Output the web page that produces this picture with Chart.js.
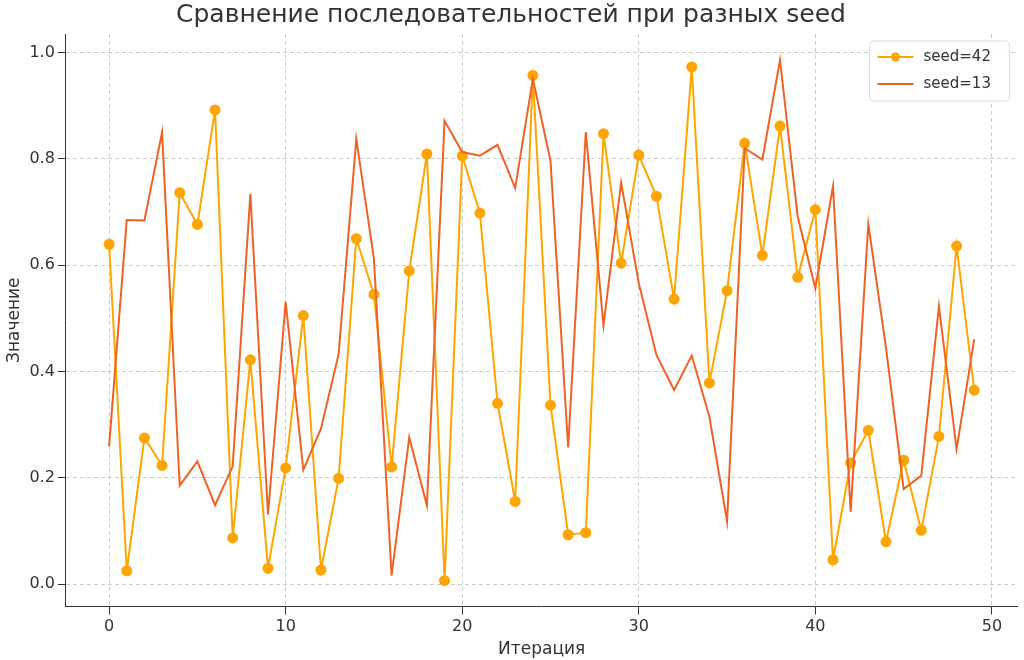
<!DOCTYPE html>
<html><head><meta charset="utf-8">
<script src="https://cdn.jsdelivr.net/npm/chart.js@4"></script>
<style>html,body{margin:0;padding:0;background:#fff}#w{width:1024px;height:660px}</style>
</head><body><div id="w"><canvas id="c" width="1024" height="660"></canvas></div>
<script>
const iterations = Array.from({length:50},(_, i)=>i);
const seed42 = [0.6394,0.0250,0.2750,0.2232,0.7365,0.6767,0.8922,0.0869,0.4219,0.0298,0.2186,0.5053,0.0265,0.1988,0.6499,0.5449,0.2204,0.5893,0.8094,0.0065,0.8058,0.6981,0.3402,0.1555,0.9572,0.3366,0.0928,0.0968,0.8475,0.6038,0.8071,0.7297,0.5362,0.9731,0.3785,0.5520,0.8294,0.6185,0.8617,0.5773,0.7045,0.0458,0.2279,0.2894,0.0797,0.2330,0.1011,0.2779,0.6359,0.3648];
const seed13 = [0.2590,0.6852,0.6841,0.8499,0.1851,0.2308,0.1484,0.2215,0.7339,0.1309,0.5311,0.2148,0.2925,0.4327,0.8376,0.6118,0.0158,0.2763,0.1478,0.8716,0.8128,0.8061,0.8265,0.7449,0.9505,0.7962,0.2573,0.8505,0.4867,0.7553,0.5661,0.4310,0.3652,0.4298,0.3149,0.1181,0.8201,0.7989,0.9859,0.6916,0.5561,0.7486,0.1355,0.6775,0.4450,0.1786,0.2041,0.5225,0.2540,0.4604];
const xTicks = [0,10,20,30,40,50];
const yTicks = [0.0,0.2,0.4,0.6,0.8,1.0];
const toXY = a => a.map((v,i)=>({x:iterations[i],y:v}));
const font = {family:'"DejaVu Sans", sans-serif'};
const legendPlugin = {id:'inLegend',afterDraw(ch){
  const ctx=ch.ctx, a=ch.chartArea;
  const x0=a.right-148, y0=a.top+7, w=140, h=60;
  ctx.save();
  ctx.fillStyle='rgba(255,255,255,0.85)';ctx.strokeStyle='#ddd';ctx.lineWidth=1;
  ctx.beginPath();ctx.roundRect(x0,y0,w,h,4);ctx.fill();ctx.stroke();
  ch.data.datasets.forEach((d,i)=>{
    const yy=y0+16+i*27;
    ctx.strokeStyle=d.borderColor;ctx.lineWidth=2;
    ctx.beginPath();ctx.moveTo(x0+8,yy);ctx.lineTo(x0+44,yy);ctx.stroke();
    if(d.pointRadius>0){ctx.fillStyle=d.borderColor;ctx.beginPath();ctx.arc(x0+26,yy,4.5,0,Math.PI*2);ctx.fill();}
    ctx.fillStyle='#333';ctx.font='15px "DejaVu Sans", sans-serif';ctx.textBaseline='middle';
    ctx.fillText(d.label,x0+54,yy);
  });
  ctx.restore();
}};
new Chart(document.getElementById('c'),{
  type:'line',
  data:{datasets:[
    {label:'seed=42',data:toXY(seed42),borderColor:'#FFA500',backgroundColor:'#FFA500',borderWidth:2,pointRadius:4.5,pointHoverRadius:4.5,tension:0,order:2},
    {label:'seed=13',data:toXY(seed13),borderColor:'#EE6325',backgroundColor:'#EE6325',borderWidth:2,pointRadius:0,tension:0,order:1}
  ]},
  options:{
    responsive:false,animation:false,
    layout:{padding:{left:0,right:2,top:0,bottom:0}},
    plugins:{
      title:{display:true,text:'Сравнение последовательностей при разных seed',color:'#333',font:{...font,size:25,weight:'normal'},padding:{top:0,bottom:4}},
      legend:{display:false},
      tooltip:{enabled:false}
    },
    scales:{
      x:{type:'linear',min:-2.45,max:51.45,
        afterBuildTicks:s=>{s.ticks=xTicks.map(v=>({value:v}));},
        ticks:{color:'#333',font:{...font,size:16}},
        grid:{color:'#ccc',tickColor:'#333'},
        border:{color:'#333',dash:[4,3]},
        title:{display:true,text:'Итерация',color:'#333',font:{...font,size:17},padding:{top:0,bottom:0}}},
      y:{min:-0.042,max:1.035,
        afterBuildTicks:s=>{s.ticks=yTicks.map(v=>({value:v}));},
        ticks:{color:'#333',font:{...font,size:16},callback:v=>v.toFixed(1)},
        grid:{color:'#ccc',tickColor:'#333'},
        border:{color:'#333',dash:[4,3]},
        title:{display:true,text:'Значение',color:'#333',font:{...font,size:17},padding:{bottom:2}}}
    }
  },
  plugins:[legendPlugin]
});
</script></body></html>
